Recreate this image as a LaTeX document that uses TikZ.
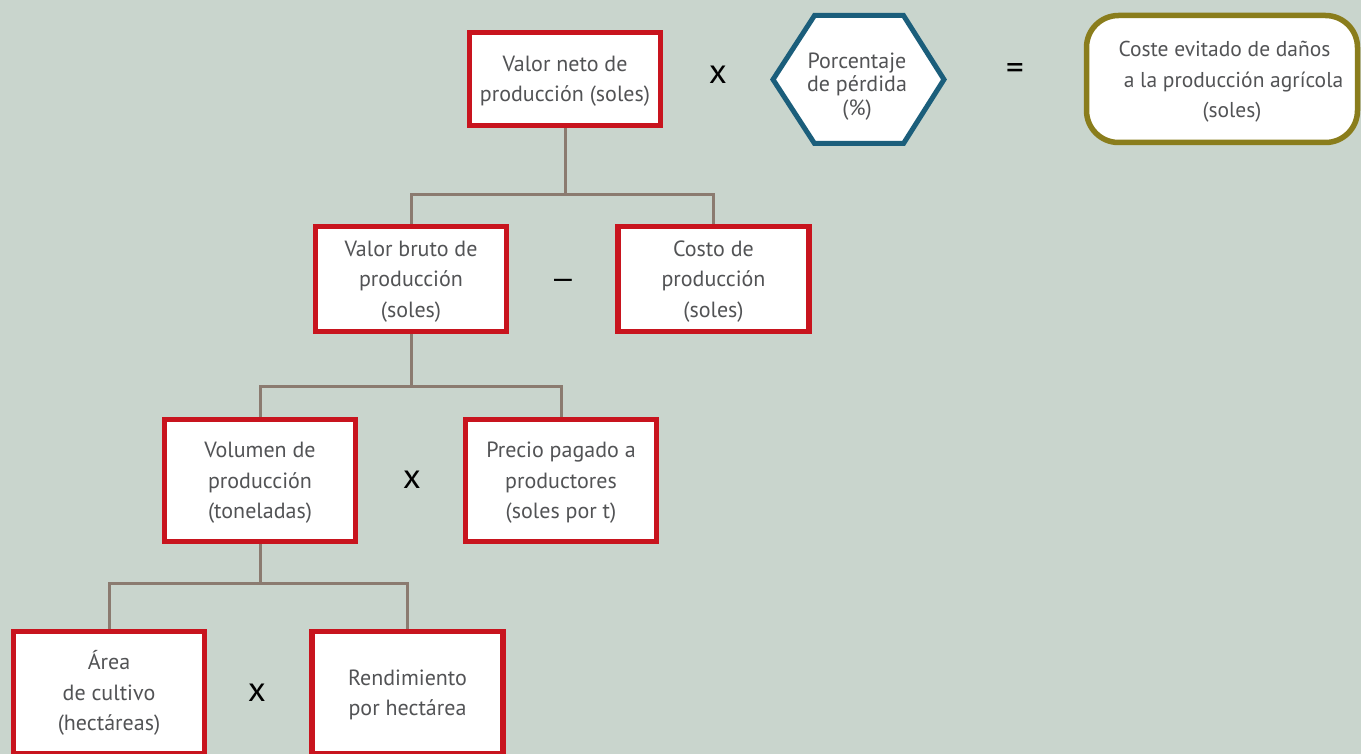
\documentclass[tikz,border=0pt]{standalone}
\usepackage{fontspec}
\setmainfont{PT Sans}
\newfontfamily\dashfont{Liberation Sans}
\usetikzlibrary{backgrounds}
\definecolor{bg}{HTML}{C9D5CD}
\definecolor{boxred}{HTML}{C8141E}
\definecolor{hexblue}{HTML}{1B5E7B}
\definecolor{olive}{HTML}{8A7D1C}
\definecolor{conn}{HTML}{8B7B70}
\definecolor{txt}{HTML}{525355}
\newcommand\mystrut{\rule{0pt}{20pt}}
\tikzset{
  redbox/.style={draw=boxred, line width=5.5pt, fill=white, minimum width=191pt,
    text=txt, align=center, font=\fontsize{22}{30.5}\selectfont, inner sep=0pt},
  link/.style={draw=conn, line width=3pt},
  op/.style={text=black, font=\fontsize{35}{35}\selectfont, inner sep=0pt}
}
\begin{document}
\begin{tikzpicture}[x=1pt,y=-1pt]
\useasboundingbox (0,0) rectangle (1361,754);
\clip (0,0) rectangle (1361,754);
% boxes
\node[redbox, minimum height=93pt] (A) at (565,79) {\mystrut Valor neto de\\producción (soles)};
\node[redbox, minimum height=105pt] (B) at (411,279) {\mystrut Valor bruto de\\producción\\(soles)};
\node[redbox, minimum height=105pt] (C) at (713.5,279) {\mystrut Costo de\\producción\\(soles)};
\node[redbox, minimum height=122pt] (D) at (260,480.5) {\mystrut Volumen de\\producción\\(toneladas)};
\node[redbox, minimum height=122pt] (E) at (561,480.5) {\mystrut Precio pagado a\\productores\\(soles por t)};
\node[redbox, minimum height=122pt] (F) at (109,692.5) {\mystrut Área\\de cultivo\\(hectáreas)};
\node[redbox, minimum height=122pt] (G) at (407.5,692.5) {\mystrut Rendimiento\\por hectárea};
% hexagon
\draw[hexblue, line width=5pt, line join=miter, fill=white]
  (773,79.5) -- (814.5,15.5) -- (903.5,15.5) -- (944,79.5) -- (903.5,143.5) -- (814.5,143.5) -- cycle;
\node[text=txt, align=center, font=\fontsize{22}{23.5}\selectfont, inner sep=0pt] (H) at (857,86.5)
  {Porcentaje\\de pérdida\\(\%)};
% rounded result box
\node[draw=olive, line width=5.5pt, fill=white, rounded corners=32pt, minimum width=271pt,
  minimum height=127pt, text=txt, align=center, font=\fontsize{21.5}{30.5}\selectfont, inner sep=0pt]
  (R) at (1222,79) {\hspace*{5pt}\rule{0pt}{21.5pt}Coste evitado de daños\\\hspace*{23pt}a la producción agrícola\\\hspace*{20pt}(soles)};
% operators
\node[op] (m1) at (718,75) {x};
\node[op] (m2) at (1015,72) {=};
\node[op, font=\dashfont\fontsize{32}{32}\selectfont] (m3) at (563,284) {–};
\node[op] (m4) at (412,480) {x};
\node[op] (m5) at (257,693) {x};
% connectors
\coordinate (y1) at (0,195);
\coordinate (y2) at (0,386);
\coordinate (y3) at (0,583);
\coordinate (j1) at (A.south |- y1);
\coordinate (j2) at (B.south |- y2);
\coordinate (j3) at (D.south |- y3);
\begin{scope}[on background layer]
\fill[bg] (0,0) rectangle (1361,754);
\draw[link] (A.south) -- (j1) -| (B.north);
\draw[link] (j1) -| (C.north);
\draw[link] (B.south) -- (j2) -| (D.north);
\draw[link] (j2) -| (E.north);
\draw[link] (D.south) -- (j3) -| (F.north);
\draw[link] (j3) -| (G.north);
\end{scope}
\end{tikzpicture}
\end{document}
